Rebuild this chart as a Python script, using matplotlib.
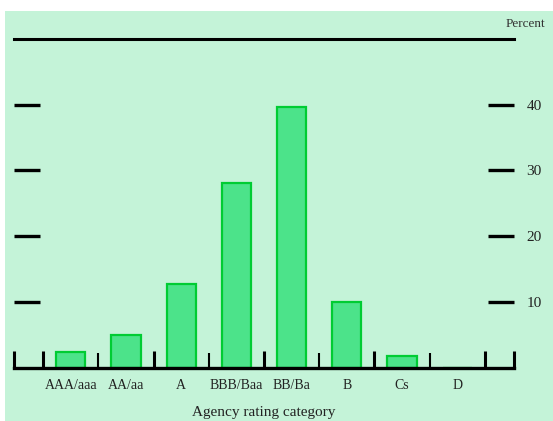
import matplotlib
matplotlib.use("Agg")
import matplotlib.pyplot as plt
from matplotlib.patches import Rectangle

# data
categories = ["AAA/aaa", "AA/aa", "A", "BBB/Baa", "BB/Ba", "B", "Cs", "D"]
percent = [2.4, 5.0, 12.8, 28.1, 39.7, 10.1, 1.8, 0.0]
ytick_vals = [10, 20, 30, 40]

bg = "#c4f3d8"
plt.rcParams['font.family'] = ['Liberation Serif', 'DejaVu Serif']

fig = plt.figure(figsize=(5.53, 4.21), dpi=100, facecolor="white")
fig.patches.append(Rectangle((5 / 553, 0), 1, (421 - 11) / 421, transform=fig.transFigure,
                             facecolor=bg, edgecolor="none", zorder=-10))
ax = fig.add_axes([14 / 553, 53 / 421, 500 / 553, 329.2 / 421])
ax.set_facecolor("none")

x = list(range(len(categories)))
ax.bar(x, percent, width=0.53, color="#4ce38a", edgecolor="#00cc33", linewidth=1.6, zorder=2)

ax.set_xlim(-1.03, 8.03)
ax.set_ylim(0, 50)

for s in ["left", "right"]:
    ax.spines[s].set_visible(False)
ax.spines["bottom"].set_linewidth(2.4)
ax.spines["top"].set_linewidth(2.2)

# x ticks: tall at group boundaries, short in between
ax.set_xticks([-1.03, -0.5, 1.5, 3.5, 5.5, 7.5, 8.03])
ax.set_xticklabels([])
ax.set_xticks([0.5, 2.5, 4.5, 6.5], minor=True)
ax.tick_params(axis="x", which="major", direction="in", length=12.5, width=2.2, top=False)
ax.tick_params(axis="x", which="minor", direction="in", length=11, width=1.5, top=False)
for xi, lab in zip(x, categories):
    ax.text(xi, -1.7, lab, ha="center", va="top", fontsize=10, color="#222222")
ax.set_xlabel("Agency rating category", fontsize=11, color="#222222", labelpad=24)

ax.set_yticks(ytick_vals)
ax.set_yticklabels([str(v) for v in ytick_vals])
ax.tick_params(axis="y", direction="in", length=18.7, width=2.4, left=True, right=True,
               labelleft=False, labelright=True, pad=9, labelsize=11, labelcolor="#222222")

fig.text(545 / 553, 1 - 24 / 421, "Percent", ha="right", va="center", fontsize=9.5, color="#333333")

fig.savefig("out.png", dpi=100, facecolor=fig.get_facecolor())
